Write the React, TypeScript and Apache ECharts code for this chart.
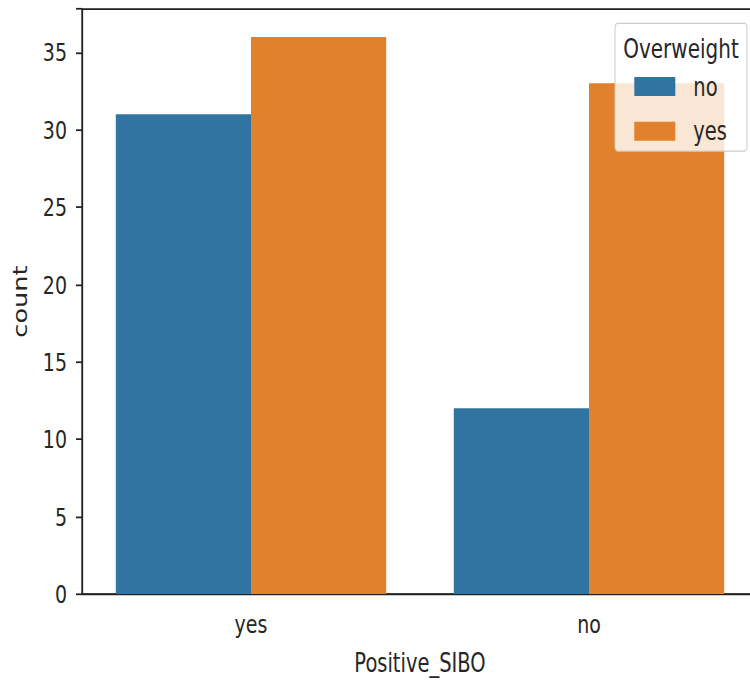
import React, { useEffect, useRef } from "react";
import * as echarts from "echarts";

const categories = ["yes", "no"];
const seriesNames = ["no", "yes"];
const valuesNo = [31, 12];
const valuesYes = [36, 33];
const yTicks = [0, 5, 10, 15, 20, 25, 30, 35];

const K = 684 / 507;
const FONT = "DejaVu Sans";
const TEXT = "#262626";
const AXIS = "#222222";

export default function App() {
  const ref = useRef<HTMLDivElement>(null);
  useEffect(() => {
    if (!ref.current) return;
    const chart = echarts.init(ref.current, undefined, { renderer: "svg" });
    chart.setOption({
      animation: false,
      backgroundColor: "#ffffff",
      grid: { left: 82, right: 8, top: 6.7, bottom: 66.7, show: true, borderColor: AXIS, borderWidth: 1.3, backgroundColor: "transparent" },
      xAxis: {
        type: "category",
        data: categories,
        name: "Positive_SIBO",
        nameLocation: "middle",
        nameGap: 41,
        nameTextStyle: { fontFamily: FONT, fontSize: 19.5, color: TEXT, verticalAlign: "top" },
        axisLine: { lineStyle: { color: AXIS, width: 1.3 } },
        axisTick: { alignWithLabel: true, length: 4.5, lineStyle: { color: AXIS, width: 1.3 } },
        axisLabel: { fontFamily: FONT, fontSize: 19, color: TEXT, margin: 13 },
        splitLine: { show: false },
      },
      yAxis: {
        type: "value",
        min: 0,
        max: 37.8,
        interval: 5,
        name: "count",
        nameLocation: "middle",
        nameGap: 52,
        nameTextStyle: { fontFamily: FONT, fontSize: 19, color: TEXT },
        axisLine: { show: true, lineStyle: { color: AXIS, width: 1.3 } },
        axisTick: { show: true, length: 6, lineStyle: { color: AXIS, width: 1.3 } },
        axisLabel: {
          fontFamily: FONT,
          fontSize: 19,
          color: TEXT,
          margin: 15,
          formatter: (v: number) => (yTicks.includes(v) ? String(v) : ""),
        },
        splitLine: { show: false },
      },
      legend: {
        orient: "vertical",
        left: 634.3,
        top: 52.6,
        padding: 0,
        itemWidth: 41,
        itemHeight: 14,
        itemGap: 10.2,
        icon: "rect",
        selectedMode: false,
        z: 6,
        textStyle: { fontFamily: FONT, fontSize: 19.5, color: TEXT, lineHeight: 20, padding: [3, 0, 0, 13] },
        data: seriesNames,
      },
      graphic: [
        {
          type: "rect",
          z: 5,
          shape: { x: 615, y: 17.3, width: 132, height: 94.7, r: 3 },
          style: { fill: "rgba(255,255,255,0.8)", stroke: "#cccccc", lineWidth: 1 },
        },
        {
          type: "text",
          z: 6,
          x: 681,
          y: 36,
          style: { text: "Overweight", fontFamily: FONT, fontSize: 20, fill: TEXT, align: "center", verticalAlign: "middle" },
        },
      ],
      series: [
        {
          name: seriesNames[0],
          type: "bar",
          data: valuesNo,
          barGap: "0%",
          barCategoryGap: "20%",
          itemStyle: { color: "#3274a1" },
        },
        {
          name: seriesNames[1],
          type: "bar",
          data: valuesYes,
          barGap: "0%",
          barCategoryGap: "20%",
          itemStyle: { color: "#e1812c" },
        },
      ],
    });
    return () => chart.dispose();
  }, []);
  return (
    <div
      style={{
        position: "absolute",
        left: 0,
        top: 0,
        width: 750,
        height: 684,
        overflow: "hidden",
        background: "#ffffff",
      }}
    >
      <div
        ref={ref}
        style={{
          width: 766,
          height: 507,
          transform: `scaleY(${K})`,
          transformOrigin: "0 0",
        }}
      />
    </div>
  );
}
